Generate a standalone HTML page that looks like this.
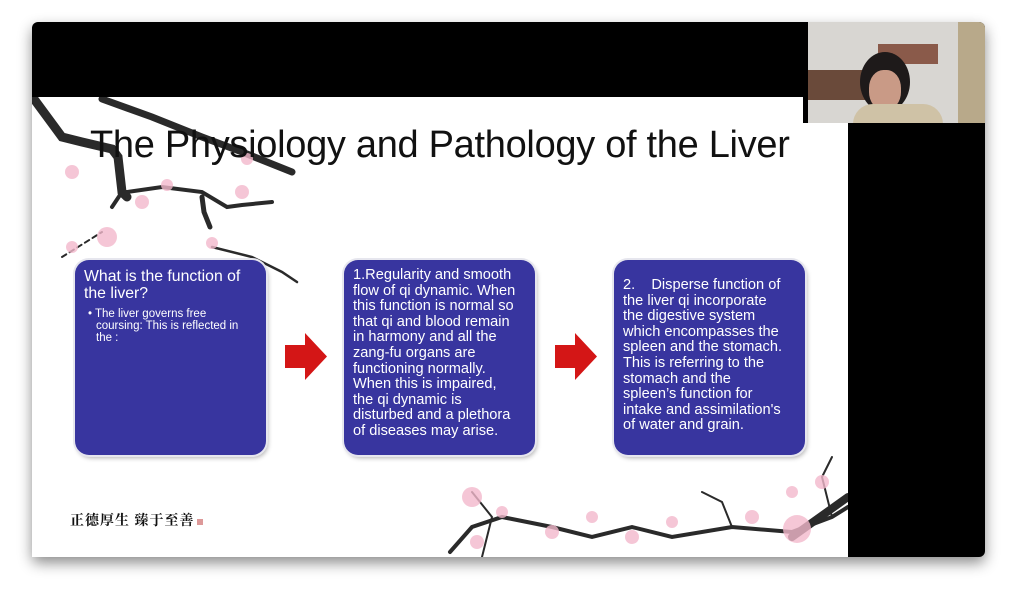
<!DOCTYPE html>
<html><head><meta charset="utf-8"><style>
body{margin:0;width:1016px;height:600px;background:#fff;position:relative;overflow:hidden;font-family:"Liberation Sans",sans-serif}
.win{position:absolute;left:32px;top:22px;width:953px;height:535px;background:#000;border-radius:6px;box-shadow:0 6px 14px rgba(0,0,0,.45)}
.slide{position:absolute;left:32px;top:97px;width:816px;height:460px;background:#fff;overflow:hidden}
.cam{position:absolute;left:803px;top:22px;width:182px;height:101px;background:#b8a98a;overflow:hidden;border-top-right-radius:6px}
.box{position:absolute;top:260px;width:191px;height:195px;background:#38359f;border-radius:14px;box-shadow:0 0 0 2px #e6e6ee,2px 3px 5px rgba(0,0,0,.3);color:#fff;box-sizing:border-box;padding:8px 4px 0 9px;font-size:14.6px;line-height:15.6px;white-space:nowrap}
.arrow{position:absolute;top:333px;width:42px;height:47px}
h1{position:absolute;left:90px;top:124px;margin:0;font-weight:normal;font-size:38px;color:#111;letter-spacing:-0.3px;white-space:nowrap}
</style></head><body>
<div class="win"></div>
<div class="slide">
<svg width="816" height="460" style="position:absolute;left:0;top:0">
<g stroke="#2a2a2a" fill="none" stroke-linecap="round">
<path d="M2 2 L30 40 L50 45 L80 52 L86 60 L90 95 L95 100" stroke-width="9"/>
<path d="M70 2 L120 20 L170 40 L210 55 L260 75" stroke-width="7"/>
<path d="M95 95 L130 90 L170 95 L195 110 L210 108 L240 105" stroke-width="4"/>
<path d="M170 100 L172 115 L178 130" stroke-width="5"/>
<path d="M90 95 L80 110" stroke-width="4"/>
<path d="M180 150 L220 160 L250 175 L265 185" stroke-width="2.5"/>
<path d="M30 160 L70 135" stroke-width="2" stroke-dasharray="5 4"/>
<path d="M418 455 L440 430 L470 420 L520 430 L560 440 L600 430 L640 440 L700 430 L760 435 L800 420 L816 410" stroke-width="4"/>
<path d="M450 460 L460 420 L440 395" stroke-width="2"/>
<path d="M700 430 L690 405 L670 395" stroke-width="2"/>
<path d="M760 440 L816 400" stroke-width="8"/>
<path d="M800 420 L790 380 L800 360" stroke-width="2"/>
</g>
<g fill="#f3b9cc" opacity=".8">
<circle cx="40" cy="75" r="7"/><circle cx="75" cy="140" r="10"/><circle cx="110" cy="105" r="7"/><circle cx="135" cy="88" r="6"/><circle cx="210" cy="95" r="7"/><circle cx="180" cy="146" r="6"/><circle cx="40" cy="150" r="6"/><circle cx="215" cy="62" r="6"/>
<circle cx="440" cy="400" r="10"/><circle cx="470" cy="415" r="6"/><circle cx="520" cy="435" r="7"/><circle cx="560" cy="420" r="6"/><circle cx="600" cy="440" r="7"/><circle cx="640" cy="425" r="6"/><circle cx="720" cy="420" r="7"/><circle cx="765" cy="432" r="14"/><circle cx="760" cy="395" r="6"/><circle cx="790" cy="385" r="7"/><circle cx="445" cy="445" r="7"/>
</g>
</svg>
<div style="position:absolute;left:38px;top:413px;font-family:'Noto Serif CJK SC',serif;font-size:14px;font-weight:bold;color:#111;letter-spacing:1px">正德厚生 臻于至善<span style="display:inline-block;width:6px;height:6px;background:#d99;margin-left:2px"></span></div>
</div>
<h1>The Physiology and Pathology of the Liver</h1>
<div class="box" style="left:75px"><div style="font-size:15.8px;line-height:17px">What is the function of<br>the liver?</div><div style="font-size:11.5px;line-height:12px;margin-top:6px;padding-left:12px;text-indent:-8px">• The liver governs free<br>coursing: This is reflected in<br>the :</div></div>
<div class="box" style="left:344px">1.Regularity and smooth<br>flow of qi dynamic. When<br>this function is normal so<br>that qi and blood remain<br>in harmony and all the<br>zang-fu organs are<br>functioning normally.<br>When this is impaired,<br>the qi dynamic is<br>disturbed and a plethora<br>of diseases may arise.</div>
<div class="box" style="left:614px;padding-top:18px">2.&nbsp;&nbsp;&nbsp; Disperse function of<br>the liver qi incorporate<br>the digestive system<br>which encompasses the<br>spleen and the stomach.<br>This is referring to the<br>stomach and the<br>spleen’s function for<br>intake and assimilation's<br>of water and grain.</div>
<svg class="arrow" style="left:285px" viewBox="0 0 42 47"><polygon points="0,12 20,12 20,0 42,23.5 20,47 20,35 0,35" fill="#d41616"/></svg>
<svg class="arrow" style="left:555px" viewBox="0 0 42 47"><polygon points="0,12 20,12 20,0 42,23.5 20,47 20,35 0,35" fill="#d41616"/></svg>
<div class="cam">
<div style="position:absolute;left:0;top:0;width:155px;height:101px;background:#d8d6d2"></div>
<div style="position:absolute;left:5px;top:48px;width:60px;height:30px;background:#6a4a3a"></div>
<div style="position:absolute;left:75px;top:22px;width:60px;height:20px;background:#8a5a4a"></div>
<div style="position:absolute;left:0;top:0;width:5px;height:101px;background:#000"></div>
<div style="position:absolute;left:57px;top:30px;width:50px;height:60px;border-radius:50%;background:#1e1a1a"></div>
<div style="position:absolute;left:66px;top:48px;width:32px;height:40px;border-radius:45%;background:#c99a86"></div>
<div style="position:absolute;left:50px;top:82px;width:90px;height:25px;border-radius:20px 20px 0 0;background:#cfc2a6"></div>
</div>
</body></html>
